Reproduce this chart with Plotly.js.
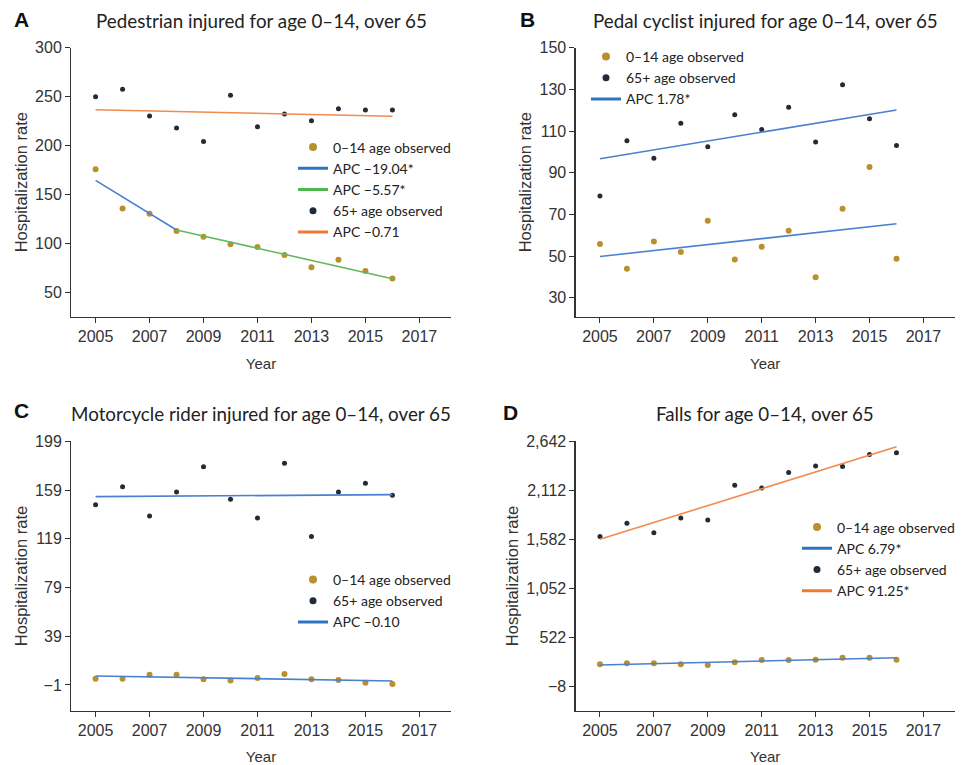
<!DOCTYPE html>
<html>
<head>
<meta charset="utf-8">
<script src="https://cdn.plot.ly/plotly-3.0.1.min.js"></script>
<style>html,body{margin:0;padding:0;background:#fff;} #chart{width:966px;height:765px;}</style>
</head>
<body>
<div id="chart"></div>
<script>
// ---------- data ----------
const years = [2005, 2006, 2007, 2008, 2009, 2010, 2011, 2012, 2013, 2014, 2015, 2016];

// A: Pedestrian
const pedChild = [176, 136, 130.5, 113, 107, 99.5, 96.5, 88.4, 76, 83.7, 72.1, 64.6];
const pedOld   = [250, 257.5, 230.3, 218, 204.4, 251.4, 219.4, 232.3, 225.5, 237.8, 236.4, 236.4];
const pedFit1Years = [2005, 2008];
const pedFit1 = [164.6, 114];
const pedFit2Years = [2008, 2016];
const pedFit2 = [114, 64.3];
const pedFitOldYears = [2005, 2016];
const pedFitOld = [236.7, 230];

// B: Pedal cyclist
const cycChild = [55.8, 43.9, 57, 51.9, 67, 48.4, 54.5, 62.2, 39.8, 72.7, 92.7, 48.7];
const cycOld   = [78.8, 105.4, 97, 113.7, 102.5, 117.8, 110.8, 121.4, 104.7, 132.2, 115.9, 103.1];
const cycFitYears = [2005, 2016];
const cycFitChild = [49.8, 65.5];
const cycFitOld = [96.7, 120.1];

// C: Motorcycle rider
const motoChild = [4.2, 4.2, 7.5, 7.5, 3.7, 2.6, 4.7, 8.0, 3.7, 3.1, 0.9, -0.2];
const motoOld   = [147, 161.8, 137.7, 157.4, 178.2, 151.4, 136.1, 180.9, 120.8, 157.4, 164.5, 154.7];
const motoFitYears = [2005, 2016];
const motoFitChild = [6.4, 2.3];
const motoFitOld = [153.6, 155.2];

// D: Falls
const fallChild = [227, 238, 238, 227, 220, 249, 274, 274, 277, 299, 299, 277];
const fallOld   = [1610, 1754, 1653, 1812, 1790, 2165, 2137, 2303, 2375, 2368, 2498, 2519];
const fallFitYears = [2005, 2016];
const fallFitChild = [220, 299];
const fallFitOld = [1581, 2584];

// ticks
const xTicks = [2005, 2007, 2009, 2011, 2013, 2015, 2017];
const yTicksA = [50, 100, 150, 200, 250, 300];
const yTicksB = [30, 50, 70, 90, 110, 130, 150];
const yTicksC = [-1, 39, 79, 119, 159, 199];
const yTicksD = [-8, 522, 1052, 1582, 2112, 2642];

// text
const titles = ["Pedestrian injured for age 0\u201314, over 65",
                "Pedal cyclist injured for age 0\u201314, over 65",
                "Motorcycle rider injured for age 0\u201314, over 65",
                "Falls for age 0\u201314, over 65"];
const letters = ["A", "B", "C", "D"];
const nameChild = "0\u201314 age observed";
const nameOld = "65+ age observed";
const apcA = ["APC \u221219.04*", "APC \u22125.57*", "APC \u22120.71"];
const apcB = ["APC 1.78*"];
const apcC = ["APC \u22120.10"];
const apcD = ["APC 6.79*", "APC 91.25*"];

// ---------- style ----------
const GOLD = "#b8912c", DARK = "#222b38", BLUE = "#2f74c0", GREEN = "#4cb84e", ORANGE = "#f07a34";
const PLOT_BLUE = "#4a80cf", PLOT_ORANGE = "#f38a4e", PLOT_GREEN = "#62bb5a";
const W = 966, H = 765;
const px = v => v / W, py = v => 1 - v / H;

const traces = [];
function pts(x, y, color, size, xa, ya) {
  traces.push({x: x, y: y, type: "scatter", mode: "markers", xaxis: xa, yaxis: ya,
    marker: {color: color, size: size}, showlegend: false, hoverinfo: "x+y"});
}
function line(x, y, color, xa, ya) {
  traces.push({x: x, y: y, type: "scatter", mode: "lines", xaxis: xa, yaxis: ya,
    line: {color: color, width: 1.6}, showlegend: false, hoverinfo: "x+y"});
}
function legM(name, color, size, leg, xa, ya) {
  traces.push({x: [null], y: [null], type: "scatter", mode: "markers", name: name, legend: leg,
    xaxis: xa, yaxis: ya, marker: {color: color, size: size}, showlegend: true});
}
function legL(name, color, leg, xa, ya) {
  traces.push({x: [null], y: [null], type: "scatter", mode: "lines", name: name, legend: leg,
    xaxis: xa, yaxis: ya, line: {color: color, width: 3}, showlegend: true});
}

// A
pts(years, pedOld, DARK, 5, "x", "y");
pts(years, pedChild, GOLD, 6, "x", "y");
line(pedFitOldYears, pedFitOld, PLOT_ORANGE, "x", "y");
line(pedFit1Years, pedFit1, PLOT_BLUE, "x", "y");
line(pedFit2Years, pedFit2, PLOT_GREEN, "x", "y");
legM(nameChild, GOLD, 8, "legend", "x", "y");
legL(apcA[0], BLUE, "legend", "x", "y");
legL(apcA[1], GREEN, "legend", "x", "y");
legM(nameOld, DARK, 7, "legend", "x", "y");
legL(apcA[2], ORANGE, "legend", "x", "y");

// B
pts(years, cycOld, DARK, 5, "x2", "y2");
pts(years, cycChild, GOLD, 6, "x2", "y2");
line(cycFitYears, cycFitOld, PLOT_BLUE, "x2", "y2");
line(cycFitYears, cycFitChild, PLOT_BLUE, "x2", "y2");
legM(nameChild, GOLD, 8, "legend2", "x2", "y2");
legM(nameOld, DARK, 7, "legend2", "x2", "y2");
legL(apcB[0], BLUE, "legend2", "x2", "y2");

// C
pts(years, motoOld, DARK, 5, "x3", "y3");
pts(years, motoChild, GOLD, 6, "x3", "y3");
line(motoFitYears, motoFitOld, PLOT_BLUE, "x3", "y3");
line(motoFitYears, motoFitChild, PLOT_BLUE, "x3", "y3");
legM(nameChild, GOLD, 8, "legend3", "x3", "y3");
legM(nameOld, DARK, 7, "legend3", "x3", "y3");
legL(apcC[0], BLUE, "legend3", "x3", "y3");

// D
pts(years, fallOld, DARK, 5, "x4", "y4");
pts(years, fallChild, GOLD, 6, "x4", "y4");
line(fallFitYears, fallFitOld, PLOT_ORANGE, "x4", "y4");
line(fallFitYears, fallFitChild, PLOT_BLUE, "x4", "y4");
legM(nameChild, GOLD, 8, "legend4", "x4", "y4");
legL(apcD[0], BLUE, "legend4", "x4", "y4");
legM(nameOld, DARK, 7, "legend4", "x4", "y4");
legL(apcD[1], ORANGE, "legend4", "x4", "y4");

const tickFont = {family: "Liberation Sans, Arial, sans-serif", size: 16, color: "#333"};
const xTitleFont = {family: "Liberation Sans, Arial, sans-serif", size: 15, color: "#333"};
const yTitleFont = {family: "Liberation Sans, Arial, sans-serif", size: 16.5, color: "#333"};
function xax(domain, anchor) {
  return {domain: domain, anchor: anchor, range: [2004.1, 2018.16], tickvals: xTicks,
    showline: true, linecolor: "#333", linewidth: 1.3, ticks: "outside", ticklen: 5, tickcolor: "#333",
    showgrid: false, zeroline: false, tickfont: tickFont,
    title: {text: "Year", font: xTitleFont, standoff: 14}};
}
function yax(domain, anchor, range, tv, fmt) {
  return {domain: domain, anchor: anchor, range: range, tickvals: tv, tickformat: fmt,
    showline: true, linecolor: "#333", linewidth: 1.3, ticks: "outside", ticklen: 5, tickcolor: "#333",
    showgrid: false, zeroline: false, tickfont: tickFont,
    title: {text: "Hospitalization rate", font: yTitleFont, standoff: 3}};
}

const dxL = [px(71.3), px(450.7)], dxR = [px(575.7), px(954.7)];
const dyT = [py(316.7), py(47.7)], dyB = [py(710.7), py(441.3)];

const legFont = {family: "Lato, sans-serif", size: 14, color: "#222"};
function leg(x, y) {
  return {x: x, y: y, xanchor: "left", yanchor: "top", xref: "paper", yref: "paper",
    font: legFont, bgcolor: "rgba(0,0,0,0)", borderwidth: 0, tracegroupgap: 0, itemwidth: 30};
}

const annotations = [];
const tcx = [261, 765, 261, 765], tcy = [20, 20, 413, 413];
const lx = [12, 518, 12, 501], ly = [19, 19, 410, 412];
for (let i = 0; i < 4; i++) {
  annotations.push({text: titles[i], xref: "paper", yref: "paper", x: px(tcx[i]), y: py(tcy[i]),
    xanchor: "center", yanchor: "middle", showarrow: false,
    font: {family: "Lato, sans-serif", size: 18.8, color: "#222"}});
  annotations.push({text: "<b>" + letters[i] + "</b>", xref: "paper", yref: "paper", x: px(lx[i]), y: py(ly[i]),
    xanchor: "left", yanchor: "middle", showarrow: false,
    font: {family: "Liberation Sans, Arial, sans-serif", size: 21, color: "#111"}});
}

const layout = {
  width: W, height: H, margin: {l: 0, r: 0, t: 0, b: 0},
  paper_bgcolor: "#fff", plot_bgcolor: "#fff",
  xaxis: xax(dxL, "y"), yaxis: yax(dyT, "x", [25.5, 300], yTicksA),
  xaxis2: xax(dxR, "y2"), yaxis2: yax(dyT, "x2", [20.9, 150], yTicksB),
  xaxis3: xax(dxL, "y3"), yaxis3: yax(dyB, "x3", [-22.1, 199], yTicksC),
  xaxis4: xax(dxR, "y4"), yaxis4: yax(dyB, "x4", [-275, 2642], yTicksD, ","),
  legend: leg(px(293), py(131.5)),
  legend2: leg(px(586), py(41)),
  legend3: leg(px(293), py(564)),
  legend4: leg(px(797), py(511.5)),
  annotations: annotations,
  showlegend: true
};

Plotly.newPlot("chart", traces, layout, {displayModeBar: false, staticPlot: true});
</script>
</body>
</html>
